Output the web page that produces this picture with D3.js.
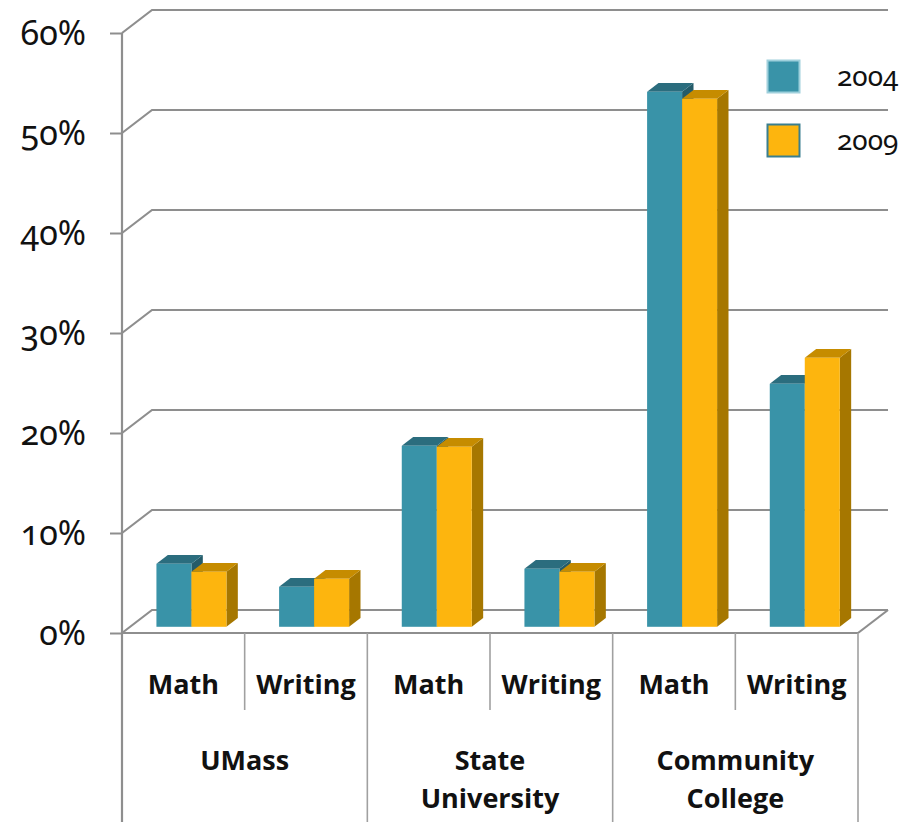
<!DOCTYPE html>
<html>
<head>
<meta charset="utf-8">
<script src="https://cdn.jsdelivr.net/npm/d3@7"></script>
<style>
  body { margin: 0; background: #fff; }
  svg { display: block; }
  .ylab { font-family: "Noto Sans", "Open Sans", sans-serif; font-variant-numeric: oldstyle-nums; font-feature-settings: "onum"; }
  .cat { font-family: "Open Sans", "Noto Sans", sans-serif; font-weight: bold; }
</style>
</head>
<body>
<div id="chart"></div>
<script>
var groups = ["UMass", "State University", "Community College"];
var subjects = ["Math", "Writing"];
var years = ["2004", "2009"];
var values2004 = [6.3, 4.0, 18.1, 5.8, 53.5, 24.3];
var values2009 = [5.5, 4.8, 18.0, 5.5, 52.8, 26.9];
var yTicks = [0, 10, 20, 30, 40, 50, 60];

var width = 916, height = 822;
var plotLeft = 122, plotRight = 858, plotTop = 33, plotBase = 633;
var depthX = 30, depthY = -23; // offset from front plane to back wall
var f0 = 0.27, f1 = 0.65;      // bar front / back depth fraction

var colors = {
  "2004": { front: "#3993a8", top: "#2b6d7e", side: "#245b69", edge: "#9fd0dc" },
  "2009": { front: "#fdb50e", top: "#c68c00", side: "#a67700", edge: "#3a7f8f" }
};

// one row per cell
var cells = [];
groups.forEach(function(g, gi) {
  subjects.forEach(function(s, si) {
    var i = gi * subjects.length + si;
    cells.push({ group: g, subject: s, i: i, v2004: values2004[i], v2009: values2009[i] });
  });
});

var svg = d3.select("#chart").append("svg")
  .attr("width", width)
  .attr("height", height);

var x = d3.scaleBand()
  .domain(d3.range(cells.length))
  .range([plotLeft, plotRight]);

var y = d3.scaleLinear()
  .domain([0, 60])
  .range([plotBase, plotTop]);

var grid = "#8e8e8e";

// back wall gridlines
yTicks.forEach(function(t) {
  var yy = y(t);
  svg.append("path")
    .attr("d", "M" + plotLeft + "," + yy + "L" + (plotLeft + depthX) + "," + (yy + depthY) + "L" + (plotRight + depthX) + "," + (yy + depthY))
    .style("fill", "none")
    .style("stroke", grid)
    .style("stroke-width", 2.2);
});

// floor right edge
svg.append("path")
  .attr("d", "M" + plotRight + "," + plotBase + "L" + (plotRight + depthX) + "," + (plotBase + depthY))
  .style("fill", "none")
  .style("stroke", grid)
  .style("stroke-width", 2.2);

// y axis
var yAxis = svg.append("g")
  .attr("transform", "translate(" + plotLeft + ",0)")
  .call(d3.axisLeft(y).tickValues(yTicks).tickFormat(function(d) { return d + "%"; }).tickSize(12).tickSizeOuter(0).tickPadding(24));
yAxis.select(".domain").remove();
yAxis.selectAll(".tick line").style("stroke", grid).style("stroke-width", 2);
yAxis.selectAll(".tick text")
  .attr("class", "ylab")
  .style("font-size", "34px")
  .style("fill", "#111")
  .attr("dy", "0.35em");

// bars
var sub = d3.scaleBand().domain(years).range([0, 70]);
var barW = sub.bandwidth();

function drawBar(d, year, value) {
  var c = colors[year];
  var x0 = x(d.i) + x.bandwidth() / 2 - 35 + sub(year) + depthX * f0;
  var yb = plotBase + depthY * f0;
  var h = y(0) - y(value);
  var yt = yb - h;
  var dx = depthX * (f1 - f0), dy = depthY * (f1 - f0);
  var g = svg.append("g");
  g.append("path")
    .attr("d", "M" + (x0 + barW) + "," + yt + "L" + (x0 + barW + dx) + "," + (yt + dy) + "L" + (x0 + barW + dx) + "," + (yb + dy) + "L" + (x0 + barW) + "," + yb + "Z")
    .style("fill", c.side);
  g.append("path")
    .attr("d", "M" + x0 + "," + yt + "L" + (x0 + dx) + "," + (yt + dy) + "L" + (x0 + barW + dx) + "," + (yt + dy) + "L" + (x0 + barW) + "," + yt + "Z")
    .style("fill", c.top);
  g.append("rect")
    .attr("x", x0)
    .attr("y", yt)
    .attr("width", barW)
    .attr("height", h)
    .style("fill", c.front);
}

cells.forEach(function(d) {
  drawBar(d, "2004", d.v2004);
  drawBar(d, "2009", d.v2009);
});

// front floor edge and left axis line
svg.append("line")
  .attr("x1", plotLeft).attr("x2", plotRight)
  .attr("y1", plotBase).attr("y2", plotBase)
  .style("stroke", grid).style("stroke-width", 2.2);
svg.append("line")
  .attr("x1", plotLeft).attr("x2", plotLeft)
  .attr("y1", y(60)).attr("y2", height)
  .style("stroke", grid).style("stroke-width", 2.2);

// category table
var subBottom = 710;
cells.forEach(function(d) {
  var xr = x(d.i) + x.bandwidth();
  var last = (d.i % subjects.length) === subjects.length - 1;
  svg.append("line")
    .attr("x1", xr).attr("x2", xr)
    .attr("y1", plotBase).attr("y2", last ? height : subBottom)
    .style("stroke", "#a0a0a0").style("stroke-width", 1.6);
  svg.append("text")
    .attr("class", "cat")
    .attr("x", x(d.i) + x.bandwidth() / 2)
    .attr("y", 694)
    .attr("text-anchor", "middle")
    .style("font-size", "27px")
    .style("fill", "#111")
    .text(d.subject);
});

groups.forEach(function(g, gi) {
  var cx = x(gi * subjects.length) + x.bandwidth();
  var words = g.split(" ");
  var t = svg.append("text")
    .attr("class", "cat")
    .attr("text-anchor", "middle")
    .style("font-size", "27px")
    .style("fill", "#111");
  words.forEach(function(w, wi) {
    t.append("tspan").attr("x", cx).attr("y", 770 + wi * 38).text(w);
  });
});

// legend
var legend = svg.append("g").attr("transform", "translate(767,60)");
years.forEach(function(yr, i) {
  var row = legend.append("g").attr("transform", "translate(0," + (i * 64) + ")");
  row.append("rect")
    .attr("x", 0.5).attr("y", 0.5)
    .attr("width", 32).attr("height", 32)
    .style("fill", colors[yr].front)
    .style("stroke", colors[yr].edge)
    .style("stroke-width", 2);
  row.append("text")
    .attr("class", "ylab")
    .attr("x", 70)
    .attr("y", 26)
    .style("font-size", "28px")
    .style("fill", "#111")
    .text(yr);
});
</script>
</body>
</html>
